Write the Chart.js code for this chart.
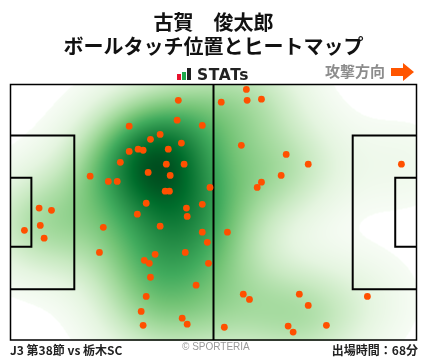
<!DOCTYPE html>
<html lang="ja"><head><meta charset="utf-8">
<style>
html,body{margin:0;padding:0;background:#fff;width:428px;height:359px;overflow:hidden;font-family:"Noto Sans CJK JP",sans-serif}
#wrap{position:relative;width:428px;height:359px}
canvas{position:absolute;left:0;top:0}
.t{position:absolute;white-space:nowrap;line-height:1}
</style>
<script src="https://cdn.jsdelivr.net/npm/chart.js@4/dist/chart.umd.min.js"></script>
</head><body><div id="wrap">
<canvas id="c" width="428" height="359"></canvas>
<svg style="position:absolute;left:177px;top:68px" width="14" height="13"><rect x="0" y="6" width="4" height="6" fill="#e8112d"/><rect x="5" y="4" width="4" height="8" fill="#1fa84a"/><rect x="10" y="0" width="4" height="12" fill="#222"/></svg>
<div class="t" style="left:197px;top:66px;font:700 15.5px 'DejaVu Sans';letter-spacing:.6px;color:#222">STATs</div>
<div class="t" style="left:325px;top:60px;font:700 15px 'Noto Sans CJK JP';color:#8c8c8c">攻撃方向</div>
<svg style="position:absolute;left:391px;top:63px" width="24" height="18"><path d="M0 5H12V0L23 9L12 18V13H0Z" fill="#ff5500"/></svg>
<div class="t" style="left:10px;top:341px;font:700 12px 'Noto Sans CJK JP';color:#222">J3 第38節 vs 栃木SC</div>
<div class="t" style="left:182px;top:341px;font:400 10px 'Liberation Sans';color:#999">© SPORTERIA</div>
<div class="t" style="right:10px;top:341px;font:700 12px 'Noto Sans CJK JP';color:#222">出場時間：68分</div>
</div>
<script>
const playerName = '古賀　俊太郎';
const chartTitle = 'ボールタッチ位置とヒートマップ';
const touchX = [43.4,43.1,49.6,30.7,38.7,36.2,44.2,30.7,33.0,34.3,40.8,28.4,40.3,44.9,35.6,41.3,20.6,25.3,27.6,51.6,40.0,41.1,35.1,49.6,45.5,7.4,10.6,32.8,45.7,7.7,3.6,8.7,24.0,38.7,49.6,50.9,23.0,45.2,37.4,34.6,35.9,51.2,36.2,48.0,35.1,33.8,44.4,45.7,34.3,61.0,54.5,61.2,64.9,59.7,71.3,77.0,101.1,70.0,64.9,63.8,56.1,60.2,61.8,74.7,77.0,92.3,71.8,73.1,81.7,55.3];
const touchY = [4.2,9.5,10.9,11.1,13.3,14.6,15.6,17.8,17.2,17.5,17.2,20.7,21.2,21.2,23.4,24.2,24.4,25.8,25.8,27.4,28.4,28.4,31.6,31.9,32.9,32.9,33.5,34.5,35.1,37.5,38.8,40.9,38.0,37.7,39.3,42.0,44.7,44.7,45.2,46.8,47.6,47.6,51.3,53.4,56.4,60.4,62.2,63.8,64.1,1.3,4.7,4.2,3.9,16.2,18.6,21.2,21.2,24.2,26.0,27.4,39.3,55.8,57.2,55.8,58.8,56.4,64.3,65.9,64.1,64.6];
const pitchLength = 105, pitchWidth = 68;
const halfwayX = [52.5,52.5], halfwayY = [0,68];
const leftBoxX = [0,16.5,16.5,0], leftBoxY = [13.6,13.6,54.5,54.5];
const leftGoalX = [0,5.4,5.4,0], leftGoalY = [24.8,24.8,43.2,43.2];
const rightBoxX = [105,88.5,88.5,105], rightGoalX = [105,99.5,99.5,105];
const greens = [[247,252,245],[229,245,224],[199,233,192],[161,217,155],[116,196,118],[65,171,93],[35,139,69],[0,109,44],[0,68,27]];

const zip = (xs,ys)=>xs.map((x,i)=>({x,y:ys[i]}));
const lineDs = (xs,ys)=>({type:'line',data:zip(xs,ys),borderColor:'#000',borderWidth:2,pointRadius:0,fill:false,order:2,tension:0,borderJoinStyle:'miter'});

const heatPlugin = {
  id:'heat',
  beforeDatasetsDraw(chart){
    const {ctx,chartArea:a,scales:{x:sx,y:sy}} = chart;
    const W=Math.round(a.right-a.left), H=Math.round(a.bottom-a.top);
    const bwX=10, bwY=9.0, cut=0.03, gamma=0.9, top=0.97;
    const step=2, gw=Math.ceil(W/step)+1, gh=Math.ceil(H/step)+1;
    const f=new Float32Array(gw*gh); let mx=0;
    for(let j=0;j<gh;j++)for(let i=0;i<gw;i++){
      const dx=sx.getValueForPixel(a.left+i*step), dy=sy.getValueForPixel(a.top+j*step);
      let s=0;
      for(let k=0;k<touchX.length;k++){
        const u=(dx-touchX[k])/bwX, v=(dy-touchY[k])/bwY;
        s+=Math.exp(-.5*(u*u+v*v));
      }
      f[j*gw+i]=s; if(s>mx)mx=s;
    }
    const off=document.createElement('canvas');off.width=W;off.height=H;
    const oc=off.getContext('2d'),img=oc.createImageData(W,H);
    for(let y=0;y<H;y++)for(let x=0;x<W;x++){
      const fx=x/step,fy=y/step,i=Math.floor(fx),j=Math.floor(fy),tx=fx-i,ty=fy-j;
      const v=((f[j*gw+i]*(1-tx)+f[j*gw+i+1]*tx)*(1-ty)+(f[(j+1)*gw+i]*(1-tx)+f[(j+1)*gw+i+1]*tx)*ty)/mx;
      const p=(y*W+x)*4;
      if(v<cut){img.data[p+3]=0;continue;}
      const c=Math.pow((v-cut)/(1-cut),gamma)*top*8,q=Math.min(7,Math.floor(c)),r=c-q;
      for(let b=0;b<3;b++)img.data[p+b]=greens[q][b]*(1-r)+greens[q+1][b]*r;
      img.data[p+3]=255;
    }
    oc.putImageData(img,0,0);
    ctx.drawImage(off,a.left,a.top);
  },
  afterDraw(chart){
    const {ctx,chartArea:a}=chart;
    ctx.save();ctx.strokeStyle='#000';ctx.lineWidth=1.5;
    ctx.strokeRect(a.left,a.top,a.right-a.left,a.bottom-a.top);ctx.restore();
  }
};

new Chart(document.getElementById('c'),{
  type:'scatter',
  data:{datasets:[
    lineDs(halfwayX,halfwayY),
    lineDs(leftBoxX,leftBoxY),lineDs(leftGoalX,leftGoalY),
    lineDs(rightBoxX,leftBoxY),lineDs(rightGoalX,leftGoalY),
    {data:zip(touchX,touchY),backgroundColor:'#ff5000',borderWidth:0,pointRadius:3.4,order:1}
  ]},
  options:{
    responsive:false,animation:false,
    layout:{padding:{left:10.5,right:11.5,bottom:19,top:10}},
    scales:{
      x:{type:'linear',display:false,min:0,max:pitchLength},
      y:{type:'linear',display:false,min:0,max:pitchWidth,reverse:true}
    },
    plugins:{
      legend:{display:false},tooltip:{enabled:false},
      title:{display:true,text:[playerName,chartTitle],color:'#111',
        font:{family:'"Noto Sans CJK JP"',size:20,weight:'700',lineHeight:1.22},
        padding:{top:0,bottom:25.7}}
    }
  },
  plugins:[heatPlugin]
});
</script>
</body></html>
